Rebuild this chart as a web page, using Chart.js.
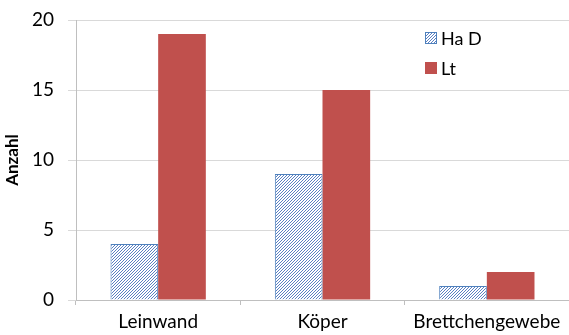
<!DOCTYPE html>
<html>
<head>
<meta charset="utf-8">
<script src="https://cdn.jsdelivr.net/npm/chart.js@4/dist/chart.umd.min.js"></script>
<style>
  html, body { margin: 0; padding: 0; background: #fff; }
  #wrap { width: 569px; height: 335px; }
</style>
</head>
<body>
<div id="wrap"><canvas id="c" width="569" height="335"></canvas></div>
<script>
const categories = ['Leinwand', 'Köper', 'Brettchengewebe'];
const seriesNames = ['Ha D', 'Lt'];
const haD = [4, 9, 1];
const lt = [19, 15, 2];
const yTicks = [0, 5, 10, 15, 20];

const BLUE = '#4f81bd';
const RED = '#c0504d';

// fine diagonal blue hatch on white
function hatch() {
  const n = 3;
  const p = document.createElement('canvas');
  p.width = n; p.height = n;
  const g = p.getContext('2d');
  g.fillStyle = '#fff';
  g.fillRect(0, 0, n, n);
  g.strokeStyle = '#5a80c2';
  g.lineWidth = 1;
  g.beginPath();
  g.moveTo(-1, n + 1); g.lineTo(n + 1, -1);
  g.moveTo(-1, 1); g.lineTo(1, -1);
  g.moveTo(n - 1, n + 1); g.lineTo(n + 1, n - 1);
  g.stroke();
  return g.createPattern(p, 'repeat');
}
const hatchFill = hatch();

const FONT = 'Lato, "Open Sans", sans-serif';

// legend drawn inside the plot, stacked vertically
const insideLegend = {
  id: 'insideLegend',
  afterDraw(chart) {
    const ctx = chart.ctx;
    const x = 425, y0 = 38, step = 30, box = 12;
    ctx.save();
    chart.data.datasets.forEach((ds, i) => {
      const y = y0 + i * step;
      ctx.fillStyle = ds.backgroundColor;
      ctx.fillRect(x, y - box / 2, box, box);
      ctx.strokeStyle = ds.borderColor;
      ctx.lineWidth = 1;
      ctx.strokeRect(x + 0.5, y - box / 2 + 0.5, box - 1, box - 1);
      ctx.fillStyle = '#000';
      ctx.font = '18px ' + FONT;
      ctx.textBaseline = 'middle';
      ctx.textAlign = 'left';
      ctx.fillText(ds.label, x + 16, y + 1);
    });
    ctx.restore();
  }
};

new Chart(document.getElementById('c'), {
  type: 'bar',
  data: {
    labels: categories,
    datasets: [
      { label: seriesNames[0], data: haD, backgroundColor: hatchFill, borderColor: BLUE, borderWidth: 1 },
      { label: seriesNames[1], data: lt, backgroundColor: RED, borderColor: RED, borderWidth: 0 }
    ]
  },
  options: {
    responsive: false,
    animation: false,
    devicePixelRatio: 1,
    layout: { padding: { top: 20, right: 0, left: 0, bottom: 0 } },
    datasets: { bar: { categoryPercentage: 0.58, barPercentage: 1 } },
    plugins: { legend: { display: false }, tooltip: { enabled: false } },
    scales: {
      x: {
        grid: { display: true, drawOnChartArea: false, offset: true, tickLength: 5, color: '#bfbfbf' },
        border: { color: '#bfbfbf' },
        ticks: { color: '#000', font: { family: FONT, size: 19 }, padding: 5, maxRotation: 0 },
        afterFit(s) { s.height = 35; s.paddingLeft = 0; s.paddingRight = 0; }
      },
      y: {
        min: 0, max: 20,
        afterBuildTicks(s) { s.ticks = yTicks.map(v => ({ value: v })); },
        grid: { color: '#d9d9d9', tickLength: 8 },
        border: { color: '#bfbfbf' },
        ticks: { color: '#000', font: { family: FONT, size: 19 }, padding: 14 },
        title: { display: true, text: 'Anzahl', color: '#000', font: { family: FONT, size: 17, weight: 'bold' }, padding: 2 },
        afterFit(s) { s.width = 76; s.paddingTop = 0; s.paddingBottom = 0; }
      }
    }
  },
  plugins: [insideLegend]
});
</script>
</body>
</html>
